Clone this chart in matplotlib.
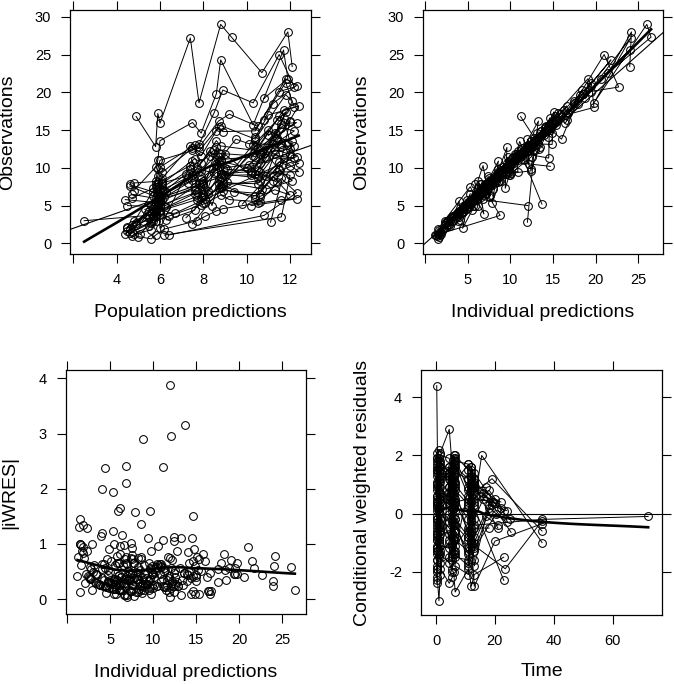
import numpy as np
import matplotlib
matplotlib.use("Agg")
import matplotlib.pyplot as plt

plt.rcParams["font.family"] = ["Liberation Sans", "DejaVu Sans"]
plt.rcParams["axes.unicode_minus"] = False

# one sublist per subject, in sampling order
time = [
    [0.25, 0.5, 1, 1.5, 4.5, 5.5, 6, 6.5, 11, 12, 13, 23],
    [0.25, 0.5, 1, 1.5, 4.5, 5.5, 6, 6.5, 11, 12, 13, 18, 24],
    [0.25, 0.5, 1, 1.5, 4.5, 5.5, 6, 6.5, 11, 12, 13, 17],
    [0.25, 0.5, 1, 1.5, 4.5, 5.5, 6, 6.5, 11, 12, 13, 20, 36],
    [0.25, 0.5, 1, 1.5, 4.5, 5.5, 6, 6.5, 11, 12, 13, 17, 22],
    [0.25, 0.5, 1, 1.5, 4.5, 5.5, 6, 6.5, 11, 12, 13, 18],
    [0.25, 0.5, 1, 1.5, 4.5, 5.5, 6, 6.5, 11, 12, 13],
    [0.25, 0.5, 1, 1.5, 4.5, 5.5, 6, 6.5, 11, 12, 13, 19.5],
    [0.25, 0.5, 1, 1.5, 4.5, 5.5, 6, 6.5, 11, 12, 13, 23.5, 36],
    [0.25, 0.5, 1, 1.5, 4.5, 5.5, 6, 6.5, 11, 12, 13, 20, 25],
    [0.25, 0.5, 1, 1.5, 4.5, 5.5, 6, 6.5, 11, 12, 13, 36, 72],
    [0.25, 0.5, 1, 1.5, 4.5, 5.5, 6, 6.5, 11, 12, 13, 16],
    [0.25, 0.5, 1, 1.5, 4.5, 5.5, 6, 6.5, 11, 12, 13, 23],
    [0.25, 0.5, 1, 1.5, 4.5, 5.5, 6, 6.5, 11, 12, 13, 21],
    [0.25, 0.5, 1, 1.5, 4.5, 5.5, 6, 6.5, 11, 12, 13, 15.5, 36],
    [0.25, 0.5, 1, 1.5, 4.5, 5.5, 6, 6.5, 11, 12, 13, 20],
    [0.25, 0.5, 1, 1.5, 4.5, 5.5, 6, 6.5, 11, 12, 13],
    [0.25, 0.5, 1, 1.5, 4.5, 5.5, 6, 6.5, 11, 12, 13, 19, 36],
    [0.25, 0.5, 1, 1.5, 4.5, 5.5, 6, 6.5, 11, 12, 13, 18, 23],
    [0.25, 0.5, 1, 1.5, 4.5, 5.5, 6, 6.5, 11, 12, 13, 20.5],
    [0.25, 0.5, 1, 1.5, 4.5, 5.5, 6, 6.5, 11, 12, 13, 25.5],
    [0.25, 0.5, 1, 1.5, 4.5, 5.5, 6, 6.5, 11, 12, 13, 19],
    [0.25, 0.5, 1, 1.5, 4.5, 5.5, 6, 6.5, 11, 12, 13, 16, 19],
    [0.25, 0.5, 1, 1.5, 4.5, 5.5, 6, 6.5, 11, 12, 13, 18, 24],
    [0.25, 0.5, 1, 1.5, 4.5, 5.5, 6, 6.5, 11, 12, 13, 15, 22],
    [0.25, 0.5, 1, 1.5, 4.5, 5.5, 6, 6.5, 11, 12, 13, 17, 21],
]

pred = [
    [4.7, 5.5, 5.9, 6.2, 7.3, 7.9, 8.6, 9.1, 10.2, 11.4, 12.1, 11.1],
    [5.1, 5.7, 6.0, 6.3, 7.6, 8.2, 8.7, 8.9, 10.5, 11.7, 12.4, 10.9, 11.4],
    [4.4, 5.8, 5.9, 6.1, 7.4, 7.7, 8.5, 8.8, 10.3, 11.5, 12.0, 11.0],
    [4.8, 5.6, 5.8, 6.4, 7.9, 8.1, 8.8, 9.2, 10.6, 11.6, 12.3, 10.8, 6.4],
    [4.6, 5.7, 5.9, 6.1, 7.5, 7.8, 8.7, 8.9, 10.4, 11.8, 12.3, 11.2, 10.8],
    [4.5, 5.4, 5.8, 6.0, 7.6, 8.0, 8.6, 9.0, 10.5, 11.3, 12.0, 9.8],
    [4.9, 5.8, 5.9, 6.0, 7.4, 7.8, 8.8, 9.3, 10.7, 11.9, 12.1],
    [5.3, 5.7, 6.0, 6.2, 7.2, 7.9, 8.3, 8.8, 10.0, 11.6, 12.2, 10.7],
    [4.7, 5.6, 5.8, 6.0, 7.7, 8.0, 8.8, 9.4, 10.4, 11.4, 12.0, 11.6, 6.2],
    [4.7, 5.9, 6.0, 6.1, 7.6, 7.9, 8.6, 8.8, 10.4, 11.7, 12.4, 10.9, 10.4],
    [4.5, 5.7, 5.9, 6.0, 7.5, 8.0, 8.7, 9.0, 10.6, 11.6, 12.3, 6.7, 2.5],
    [4.8, 5.8, 5.9, 6.0, 7.5, 7.8, 8.5, 8.9, 10.3, 11.5, 12.2, 11.5],
    [5.0, 5.6, 5.8, 6.2, 7.7, 8.1, 8.6, 8.9, 10.5, 11.6, 12.3, 10.2],
    [4.6, 5.7, 5.9, 6.1, 7.4, 7.9, 8.6, 8.8, 10.4, 11.8, 12.1, 10.9],
    [4.9, 5.6, 5.9, 6.0, 7.6, 8.0, 8.7, 8.8, 10.5, 11.6, 12.2, 11.0, 7.5],
    [4.8, 5.8, 5.9, 6.0, 7.5, 7.9, 8.6, 8.8, 10.3, 11.7, 11.9, 10.8],
    [4.5, 5.7, 5.8, 6.0, 7.7, 8.0, 8.8, 8.9, 10.6, 11.5, 12.0],
    [4.9, 5.8, 5.9, 6.1, 7.5, 7.9, 8.7, 8.8, 10.4, 11.6, 12.3, 10.5, 7.2],
    [4.7, 5.7, 5.9, 6.0, 7.6, 7.8, 8.7, 9.2, 10.5, 11.8, 12.2, 11.0, 10.4],
    [4.6, 5.6, 5.8, 6.0, 7.7, 8.1, 8.8, 8.9, 10.6, 11.5, 12.1, 10.9],
    [4.6, 5.8, 6.0, 6.1, 7.4, 7.9, 8.6, 8.7, 10.4, 11.5, 12.0, 10.2],
    [4.8, 5.7, 5.9, 6.0, 7.5, 8.0, 8.7, 8.9, 10.5, 11.7, 12.2, 10.6],
    [5.2, 5.9, 6.0, 6.3, 7.3, 7.7, 8.5, 9.0, 10.2, 11.3, 12.0, 10.8, 10.1],
    [4.4, 5.5, 6.1, 6.2, 7.8, 8.2, 8.9, 9.1, 10.7, 11.3, 12.4, 10.6, 11.2],
    [4.5, 5.6, 5.8, 6.1, 7.5, 8.3, 8.6, 9.5, 10.1, 11.2, 11.8, 11.4, 10.3],
    [4.7, 5.5, 5.9, 6.3, 7.6, 8.0, 8.4, 8.7, 10.4, 11.2, 12.0, 11.3, 10.6],
]

obs = [
    [2.4, 4.3, 5.2, 6.1, 8.0, 8.5, 10.3, 9.8, 9.6, 14.0, 13.5, 2.8],
    [1.2, 3.3, 4.1, 4.8, 6.6, 6.9, 8.5, 8.0, 7.9, 11.3, 10.6, 8.9, 8.1],
    [5.8, 5.4, 6.6, 7.4, 9.8, 10.1, 12.4, 11.9, 11.6, 16.8, 16.1, 14.3],
    [1.2, 1.8, 2.9, 3.6, 5.1, 5.3, 6.4, 5.8, 5.5, 8.6, 6.7, 3.7, 1.1],
    [7.8, 6.8, 8.1, 9.4, 12.6, 12.2, 15.4, 14.8, 14.9, 21.8, 20.9, 18.5, 16.3],
    [2.0, 3.9, 4.7, 5.6, 7.4, 7.6, 9.4, 9.0, 9.1, 12.4, 11.8, 5.2],
    [16.8, 12.8, 17.2, 15.9, 27.2, 18.6, 29.0, 27.3, 22.6, 28.0, 23.4],
    [4.5, 4.8, 6.0, 6.9, 9.2, 8.9, 11.6, 10.9, 10.0, 15.3, 14.9, 12.1],
    [1.5, 2.7, 3.6, 4.3, 5.8, 6.2, 7.3, 6.8, 6.3, 9.4, 9.0, 3.5, 1.1],
    [6.5, 5.9, 7.0, 7.9, 11.2, 10.7, 13.6, 12.9, 12.3, 17.6, 18.2, 11.3, 9.2],
    [2.2, 4.6, 5.5, 6.3, 8.4, 8.2, 10.9, 10.0, 10.7, 13.2, 11.5, 4.0, 3.0],
    [8.0, 8.2, 9.8, 11.0, 12.3, 13.1, 17.3, 20.3, 18.6, 25.0, 20.7, 20.1],
    [0.9, 0.6, 1.1, 1.9, 3.0, 3.6, 4.3, 4.6, 5.3, 5.8, 5.9, 5.0],
    [7.6, 6.3, 7.8, 8.6, 12.9, 11.6, 14.9, 15.6, 13.8, 19.7, 18.8, 12.3],
    [2.7, 4.0, 5.1, 5.9, 7.1, 8.0, 10.1, 9.2, 8.7, 12.8, 12.9, 15.0, 2.6],
    [7.0, 10.1, 11.0, 13.6, 16.0, 14.6, 19.8, 24.3, 15.7, 25.6, 21.8, 19.2],
    [1.7, 3.6, 4.2, 5.0, 6.8, 6.5, 8.7, 7.7, 8.3, 10.8, 10.2],
    [2.5, 5.2, 6.3, 7.1, 9.0, 9.6, 12.0, 11.1, 11.5, 15.8, 16.0, 12.6, 3.4],
    [6.0, 7.3, 8.9, 10.1, 13.0, 12.7, 16.2, 17.1, 15.5, 21.3, 18.0, 17.0, 14.1],
    [1.4, 2.9, 3.8, 4.4, 6.2, 5.9, 7.6, 7.0, 6.6, 9.7, 8.3, 7.2],
    [1.9, 7.5, 3.9, 8.3, 10.3, 6.1, 12.7, 7.3, 13.5, 9.8, 16.2, 9.4],
    [2.9, 3.0, 6.6, 2.0, 10.9, 5.4, 11.4, 9.2, 9.6, 16.6, 11.3, 11.9],
    [3.0, 5.5, 4.9, 6.8, 8.7, 9.9, 9.3, 11.8, 9.0, 14.6, 12.5, 12.0, 10.4],
    [1.3, 3.4, 5.8, 4.9, 7.9, 6.6, 9.9, 8.1, 7.2, 11.9, 9.5, 9.4, 8.3],
    [5.0, 4.9, 7.9, 8.0, 9.1, 12.2, 10.5, 13.8, 13.2, 13.1, 17.4, 16.3, 13.0],
    [1.0, 2.3, 5.6, 3.1, 4.4, 7.8, 5.0, 7.9, 5.9, 8.9, 6.4, 7.1, 6.2],
]

ipred = [
    [2.6, 4.1, 5.4, 5.8, 7.6, 8.2, 9.6, 9.5, 9.1, 12.8, 12.9, 12.0],
    [1.5, 3.0, 4.3, 4.6, 6.1, 6.6, 7.8, 7.7, 7.4, 10.2, 10.1, 8.6, 8.3],
    [5.5, 5.1, 6.4, 7.1, 9.3, 9.9, 11.6, 11.3, 10.9, 15.2, 15.4, 14.0],
    [1.5, 1.6, 2.6, 3.3, 4.7, 5.0, 5.9, 5.7, 5.4, 7.5, 7.2, 8.8, 1.3],
    [7.2, 6.3, 7.7, 8.8, 11.4, 11.9, 14.1, 13.9, 13.6, 19.1, 19.5, 17.9, 16.6],
    [2.2, 3.7, 4.9, 5.3, 6.9, 7.4, 8.7, 8.5, 8.3, 11.3, 11.3, 13.7],
    [11.2, 13.5, 15.6, 16.4, 24.1, 19.8, 26.0, 26.5, 21.5, 24.2, 24.0],
    [4.8, 4.6, 5.7, 6.5, 8.5, 8.7, 10.6, 10.4, 9.7, 14.1, 14.2, 12.0],
    [1.8, 2.5, 3.3, 4.0, 5.4, 5.8, 6.9, 6.7, 6.1, 8.5, 8.6, 4.0, 1.2],
    [6.0, 5.6, 6.7, 7.5, 10.2, 10.4, 12.4, 12.3, 11.7, 16.3, 16.6, 10.8, 9.6],
    [2.4, 4.4, 5.3, 6.0, 7.8, 8.0, 9.9, 9.8, 9.6, 12.6, 12.5, 4.3, 2.9],
    [7.6, 7.5, 9.3, 10.5, 12.9, 13.3, 16.8, 18.4, 17.5, 21.0, 22.7, 19.4],
    [1.6, 1.5, 1.8, 2.1, 3.3, 3.8, 4.5, 4.5, 5.0, 6.0, 6.1, 12.1],
    [7.0, 6.0, 7.3, 8.2, 11.9, 11.1, 13.6, 14.2, 16.0, 18.2, 17.5, 12.6],
    [2.3, 3.8, 4.8, 5.6, 7.3, 7.6, 9.0, 8.9, 8.4, 11.9, 12.2, 14.6, 2.8],
    [6.6, 9.5, 11.6, 12.8, 15.0, 14.9, 18.5, 21.8, 15.4, 24.0, 20.6, 18.8],
    [2.0, 3.4, 4.4, 4.7, 6.4, 6.6, 8.1, 7.8, 7.6, 9.9, 14.7],
    [2.8, 4.9, 6.0, 6.8, 8.6, 9.1, 11.2, 10.9, 10.3, 14.6, 14.8, 12.1, 3.6],
    [5.6, 6.8, 8.3, 9.5, 12.1, 12.4, 15.0, 15.8, 14.4, 19.5, 19.8, 16.5, 14.4],
    [1.7, 2.7, 3.5, 4.2, 5.8, 5.7, 7.1, 7.0, 6.4, 8.9, 8.8, 7.4],
    [1.5, 5.3, 6.9, 6.2, 6.8, 7.5, 9.6, 9.4, 11.1, 12.4, 13.3, 9.9],
    [2.3, 3.9, 5.3, 4.4, 8.6, 7.9, 9.7, 9.5, 12.4, 14.6, 14.5, 11.5],
    [3.2, 5.0, 5.6, 6.3, 8.1, 9.2, 10.1, 10.8, 9.9, 13.1, 13.4, 11.5, 10.0],
    [1.9, 3.1, 4.9, 5.2, 7.0, 7.1, 8.6, 8.5, 8.0, 10.6, 10.9, 9.0, 8.7],
    [4.4, 5.8, 6.6, 7.3, 10.0, 10.9, 12.2, 12.0, 12.5, 14.9, 15.1, 15.0, 12.2],
    [1.4, 2.9, 4.0, 4.1, 5.5, 5.9, 6.2, 6.4, 6.8, 7.4, 7.6, 7.0, 6.6],
]

iwres = [
    [0.38, 0.54, 0.19, 0.66, 0.26, 0.58, 0.36, 0.66, 0.27, 0.87, 0.23, 3.88],
    [1.0, 0.5, 0.63, 0.22, 0.81, 0.23, 0.65, 0.19, 0.74, 0.54, 0.25, 0.17, 0.12],
    [0.32, 0.69, 0.16, 0.51, 0.27, 0.6, 0.34, 0.57, 0.32, 0.53, 0.73, 0.45],
    [1.0, 0.62, 0.58, 0.45, 0.43, 0.3, 0.42, 0.09, 0.09, 0.73, 0.35, 2.9, 0.77],
    [0.51, 0.4, 0.66, 0.34, 0.53, 0.13, 0.86, 0.32, 0.48, 0.71, 0.56, 0.65, 0.09],
    [0.45, 0.27, 0.2, 0.28, 0.36, 0.14, 0.4, 0.29, 0.48, 0.49, 0.22, 3.15],
    [2.4, 0.26, 0.51, 0.15, 0.6, 0.66, 0.58, 0.17, 0.69, 0.79, 0.23],
    [0.52, 0.72, 0.26, 0.61, 0.41, 0.11, 0.97, 0.24, 0.55, 0.43, 0.65, 0.04],
    [0.83, 0.4, 0.45, 0.38, 0.37, 0.34, 0.29, 0.07, 0.16, 0.53, 0.23, 0.63, 0.42],
    [0.44, 0.27, 0.72, 0.27, 0.49, 0.64, 0.48, 0.24, 0.76, 0.4, 0.48, 0.63, 0.21],
    [0.42, 0.23, 0.19, 0.25, 0.38, 0.13, 0.5, 0.1, 0.57, 0.24, 0.4, 0.35, 0.17],
    [0.34, 0.47, 0.27, 0.24, 0.23, 0.08, 0.15, 0.52, 0.31, 0.95, 0.44, 0.45],
    [0.98, 0.13, 0.95, 0.3, 0.45, 0.26, 0.22, 0.11, 0.3, 0.17, 0.16, 2.95],
    [0.42, 0.65, 0.34, 0.74, 0.42, 0.23, 0.48, 0.49, 0.69, 0.81, 0.55, 0.52],
    [0.87, 0.26, 0.31, 0.27, 0.14, 0.26, 0.61, 0.17, 0.18, 0.38, 0.29, 0.14, 0.36],
    [0.37, 0.32, 0.26, 0.31, 0.33, 0.1, 0.35, 0.57, 0.1, 0.33, 0.4, 0.57],
    [0.75, 0.29, 0.23, 0.32, 0.31, 0.08, 0.37, 0.06, 0.46, 0.45, 1.5],
    [0.54, 0.31, 0.65, 0.22, 0.73, 0.27, 0.36, 0.59, 0.58, 0.41, 0.91, 0.21, 0.28],
    [0.37, 0.77, 0.36, 0.32, 0.57, 0.12, 0.4, 0.81, 0.38, 0.46, 0.45, 0.15, 0.1],
    [0.88, 0.37, 0.43, 0.24, 0.34, 0.18, 0.35, 0.04, 0.16, 0.45, 0.28, 0.14],
    [1.45, 1.94, 2.1, 1.65, 2.42, 0.93, 1.6, 1.1, 1.08, 1.05, 1.1, 0.25],
    [1.28, 1.15, 1.24, 2.38, 1.36, 1.57, 0.88, 0.16, 1.13, 0.69, 1.1, 0.17],
    [0.31, 0.5, 0.62, 0.4, 0.37, 0.38, 0.4, 0.46, 0.45, 0.57, 0.34, 0.22, 0.2],
    [1.35, 0.62, 0.9, 0.3, 0.63, 0.35, 0.76, 0.24, 0.5, 0.62, 0.64, 0.22, 0.23],
    [0.57, 0.78, 0.98, 0.48, 0.45, 0.6, 0.7, 0.75, 0.28, 0.6, 0.76, 0.43, 0.33],
    [1.3, 1.0, 2.0, 1.2, 1.0, 1.6, 0.97, 1.17, 0.66, 1.01, 0.8, 0.07, 0.3],
]

cwres = [
    [-1.2, -0.4, 0.1, 0.5, 0.3, 0.6, 0.9, 0.4, -0.6, 0.8, 0.2, -2.3],
    [-2.2, -0.9, -0.6, -0.2, -0.5, -0.7, -0.1, -0.6, -1.2, -0.3, -0.8, 0.3, 0.1],
    [0.3, 0.8, 1.2, 1.1, 1.4, 0.9, 1.6, 1.0, 0.4, 1.3, 0.9, 0.9],
    [-2.4, -1.9, -1.5, -1.4, -1.7, -2.0, -1.3, -1.8, -2.1, -1.0, -2.5, -0.95, -0.35],
    [1.4, 1.8, 1.6, 2.0, 1.9, 1.2, 1.5, 1.1, 1.7, 1.3, 0.8, 0.6, 0.2],
    [-0.7, -0.2, -0.9, 0.0, -0.3, -0.8, 0.2, -0.4, -0.9, 0.1, -0.5, -0.5],
    [4.4, 1.9, 2.2, 2.1, 2.9, 1.6, 2.0, 1.8, 1.7, 1.6, 1.2],
    [-0.3, 0.4, 0.7, 0.6, 0.9, 0.2, 1.1, 0.5, -0.2, 1.0, 0.5, 0.4],
    [-1.6, -1.3, -1.0, -1.1, -1.2, -1.5, -0.8, -1.4, -1.8, -0.7, -1.1, -1.9, -0.25],
    [0.6, 1.0, 0.8, 1.3, 1.2, 0.7, 1.3, 0.8, 0.3, 1.1, 1.4, 0.35, -0.2],
    [-0.9, -0.1, 0.3, 0.2, 0.5, -0.2, 0.6, 0.1, 0.2, 0.4, -0.4, -0.2, -0.1],
    [1.5, 2.1, 1.8, 1.7, 0.9, 1.3, 1.9, 2.0, 1.5, 1.5, 0.9, 0.7],
    [-2.0, -2.3, -3.0, -1.9, -2.4, -2.2, -2.0, -2.7, -1.9, -2.5, -2.1, -1.5],
    [0.9, 1.3, 1.5, 1.2, 1.6, 1.1, 1.4, 1.7, 0.6, 1.2, 0.9, -0.5],
    [-0.2, -0.6, -0.3, 0.4, -0.9, -0.3, 0.3, -0.2, -0.8, 0.0, 0.3, 2.0, -1.0],
    [1.9, 1.6, 1.3, 1.8, 1.4, 0.8, 1.7, 1.9, 0.8, 1.6, 1.0, 0.5],
    [-1.3, -0.7, -0.5, -0.6, -0.7, -1.0, -0.4, -1.1, -0.5, -0.9, -1.6],
    [0.1, 0.5, 0.9, 0.7, 0.6, 1.0, 1.2, 0.4, 0.5, 0.9, 0.7, 1.2, -0.6],
    [1.1, 1.5, 1.9, 1.6, 1.3, 1.5, 1.8, 1.6, 1.2, 1.4, 0.4, 0.8, 0.1],
    [-1.8, -1.1, -0.8, -1.3, -1.0, -1.4, -0.9, -1.5, -1.6, -0.6, -1.2, 0.0],
    [-0.5, 1.7, -1.4, 1.5, 1.6, -1.6, 1.5, -1.3, 0.9, -1.0, 1.2, -0.65],
    [0.4, -1.2, 1.1, -2.1, 1.3, -1.9, 0.7, -0.4, -1.4, 0.9, -1.3, 0.4],
    [0.2, 0.6, -0.4, 0.5, 0.7, 0.4, -0.3, 0.9, -0.8, 0.8, -0.2, 0.5, 0.3],
    [-1.4, -0.8, 0.2, -0.7, 0.0, -1.1, 0.4, -0.9, -1.3, -0.2, -1.0, 0.2, -0.3],
    [1.0, 0.3, 1.6, 0.9, 0.4, 1.5, 0.2, 1.4, 1.2, 0.1, 1.1, 0.6, 0.4],
    [-1.9, -1.6, 0.5, -1.7, -1.5, 0.1, -1.4, -0.2, -1.7, -0.5, -1.8, -0.1, -0.4],
]


def _local_fit(x, y, x0, k):
    # tricube-weighted local line: returns value and slope at x0
    d = np.abs(x - x0)
    h = max(np.sort(d)[k - 1], 1e-9) * 1.0001
    w = np.clip(1 - (d / h) ** 3, 0, None) ** 3
    xm = np.sum(w * x) / w.sum()
    ym = np.sum(w * y) / w.sum()
    sxx = np.sum(w * (x - xm) ** 2)
    b = np.sum(w * (x - xm) * (y - ym)) / sxx if sxx > 0 else 0.0
    return ym + b * (x0 - xm), b


def loess(x, y, span=2 / 3, cell=0.2, n_out=100):
    # loess(span=2/3, degree=1, gaussian) with kd-tree vertices
    # and cubic Hermite interpolation between them, as R does
    x = np.asarray(x, float)
    y = np.asarray(y, float)
    k = int(np.ceil(span * len(x)))
    fc = int(np.floor(len(x) * span * cell))
    verts = {x.min(), x.max()}

    def split(lo, hi):
        inside = x[(x >= lo) & (x <= hi)]
        if len(inside) <= fc:
            return
        m = np.median(inside)
        if m <= lo or m >= hi:
            return
        verts.add(m)
        split(lo, m)
        split(m, hi)

    split(x.min(), x.max())
    v = np.array(sorted(verts))
    fit = [_local_fit(x, y, vi, k) for vi in v]
    f = np.array([a for a, _ in fit])
    s = np.array([b for _, b in fit])
    xs = np.linspace(x.min(), x.max(), n_out)
    i = np.clip(np.searchsorted(v, xs, side="right") - 1, 0, len(v) - 2)
    h = v[i + 1] - v[i]
    t = (xs - v[i]) / h
    ys = ((2 * t**3 - 3 * t**2 + 1) * f[i] + (t**3 - 2 * t**2 + t) * h * s[i]
          + (-2 * t**3 + 3 * t**2) * f[i + 1] + (t**3 - t**2) * h * s[i + 1])
    return xs, ys


def flat(v):
    return [a for s in v for a in s]


pt = dict(marker="o", mfc="none", mec="black", ms=5.6, mew=0.75)

fig = plt.figure(figsize=(6.74, 6.84), dpi=100)
ax1 = fig.add_axes([0.1039, 0.6287, 0.3576, 0.3567])
ax2 = fig.add_axes([0.6276, 0.6287, 0.3561, 0.3567])
ax3 = fig.add_axes([0.0975, 0.1023, 0.3565, 0.3567])
ax4 = fig.add_axes([0.6246, 0.1009, 0.3576, 0.3582])

# Observations vs population predictions
for px, ob in zip(pred, obs):
    ax1.plot(px, ob, color="black", lw=0.7, **pt)
ax1.axline((0, 0), slope=1, color="black", lw=0.8)
sx, sy = loess(flat(pred), flat(obs))
ax1.plot(sx, sy, color="black", lw=1.9)
ax1.set_xlim(1.85, 12.97)
ax1.set_ylim(-1.4, 30.9)
ax1.set_xticks([2, 4, 6, 8, 10, 12], ["", "4", "6", "8", "10", "12"])
ax1.set_yticks([0, 5, 10, 15, 20, 25, 30])
ax1.set_xlabel("Population predictions")
ax1.set_ylabel("Observations")
ax1.xaxis.set_label_coords(0.5, -0.238)
ax1.yaxis.set_label_coords(-0.259, 0.5)

# Observations vs individual predictions
for ip, ob in zip(ipred, obs):
    ax2.plot(ip, ob, color="black", lw=0.7, **pt)
ax2.axline((0, 0), slope=1, color="black", lw=0.8)
sx, sy = loess(flat(ipred), flat(obs))
ax2.plot(sx, sy, color="black", lw=1.9)
ax2.set_xlim(-0.24, 27.9)
ax2.set_ylim(-1.4, 30.9)
ax2.set_xticks([0, 5, 10, 15, 20, 25], ["", "5", "10", "15", "20", "25"])
ax2.set_yticks([0, 5, 10, 15, 20, 25, 30])
ax2.set_xlabel("Individual predictions")
ax2.set_ylabel("Observations")
ax2.xaxis.set_label_coords(0.5, -0.238)
ax2.yaxis.set_label_coords(-0.256, 0.5)

# |iWRES| vs individual predictions
ax3.plot(flat(ipred), flat(iwres), ls="none", **pt)
sx, sy = loess(flat(ipred), flat(iwres))
ax3.plot(sx, sy, color="black", lw=1.9)
ax3.set_xlim(-0.17, 27.8)
ax3.set_ylim(-0.27, 4.15)
ax3.set_xticks([0, 5, 10, 15, 20, 25], ["", "5", "10", "15", "20", "25"])
ax3.set_yticks([0, 1, 2, 3, 4])
ax3.set_xlabel("Individual predictions")
ax3.set_ylabel("|iWRES|")
ax3.xaxis.set_label_coords(0.5, -0.238)
ax3.yaxis.set_label_coords(-0.232, 0.5)

# CWRES vs time
for t, c in zip(time, cwres):
    ax4.plot(t, c, color="black", lw=0.7, **pt)
ax4.axhline(0, color="black", lw=0.8)
sx, sy = loess(flat(time), flat(cwres))
ax4.plot(sx, sy, color="black", lw=1.9)
ax4.set_xlim(-5.1, 76.7)
ax4.set_ylim(-3.49, 4.94)
ax4.set_xticks([0, 20, 40, 60])
ax4.set_yticks([-2, 0, 2, 4])
ax4.set_xlabel("Time")
ax4.set_ylabel("Conditional weighted residuals")
ax4.xaxis.set_label_coords(0.5, -0.231)
ax4.yaxis.set_label_coords(-0.2415, 0.5)

for ax in (ax1, ax2, ax3, ax4):
    ax.tick_params(direction="out", length=6.5, width=0.8, pad=7,
                   labelsize=10.5, top=True, right=True)
    for s in ax.spines.values():
        s.set_linewidth(0.9)
    ax.xaxis.label.set_fontsize(14)
    ax.yaxis.label.set_fontsize(14)
    ax.xaxis.label.set_va("center")
    ax.yaxis.label.set_va("center")

fig.savefig("out.png", dpi=100, facecolor="white")
